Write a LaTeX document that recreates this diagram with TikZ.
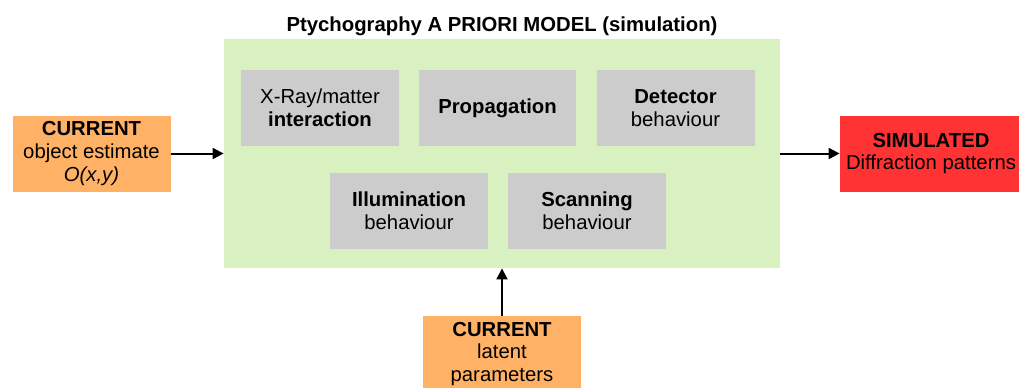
\documentclass[tikz,border=0pt]{standalone}
\usepackage{fontspec}
\setmainfont{Liberation Sans}
\usetikzlibrary{arrows.meta}

\definecolor{modelgreen}{HTML}{D9F1C1}
\definecolor{partgray}{HTML}{CCCCCC}
\definecolor{inorange}{HTML}{FFB266}
\definecolor{outred}{HTML}{FF3333}

\begin{document}
\begin{tikzpicture}[
    x=0.5pt, y=-0.5pt,
    font=\fontsize{10.15}{11.4}\selectfont,
    box/.style={align=center, inner sep=0pt, minimum width=79pt, minimum height=38pt},
    part/.style={box, fill=partgray},
    feed/.style={line width=1pt, -{Triangle[length=5.5pt,width=5.5pt]}},
]
    \useasboundingbox (0,0) rectangle (1019,387);
    \node[fill=modelgreen, inner sep=0pt, minimum width=278pt, minimum height=114.5pt] (model) at (502,153.5) {};
    \node[font=\fontsize{10.15}{11.4}\selectfont\bfseries] (title) at (502,26) {Ptychography A PRIORI MODEL (simulation)};

    \node[part] (xray) at (320,108) {X-Ray/matter\\\textbf{interaction}};
    \node[part, minimum width=78.5pt] (prop) at (497.5,108) {\textbf{Propagation}};
    \node[part] (det) at (675.5,108) {\textbf{Detector}\\behaviour};
    \node[part] (illum) at (409,211) {\textbf{Illumination}\\behaviour};
    \node[part] (scan) at (587,211) {\textbf{Scanning}\\behaviour};

    \node[box, fill=inorange] (obj) at (91.5,153.5) {\textbf{CURRENT}\\object estimate\\\textit{O(x,y)}};
    \node[box, fill=outred, minimum width=91pt] (sim) at (931,153.5) {\textbf{SIMULATED}\\Diffraction patterns};
    \node[box, fill=inorange] (latent) at (502,354) {\textbf{CURRENT}\\latent\\parameters};

    \draw[feed] (obj) -- (model);
    \draw[feed] (model) -- (sim);
    \draw[feed] (latent) -- (model);
\end{tikzpicture}
\end{document}
